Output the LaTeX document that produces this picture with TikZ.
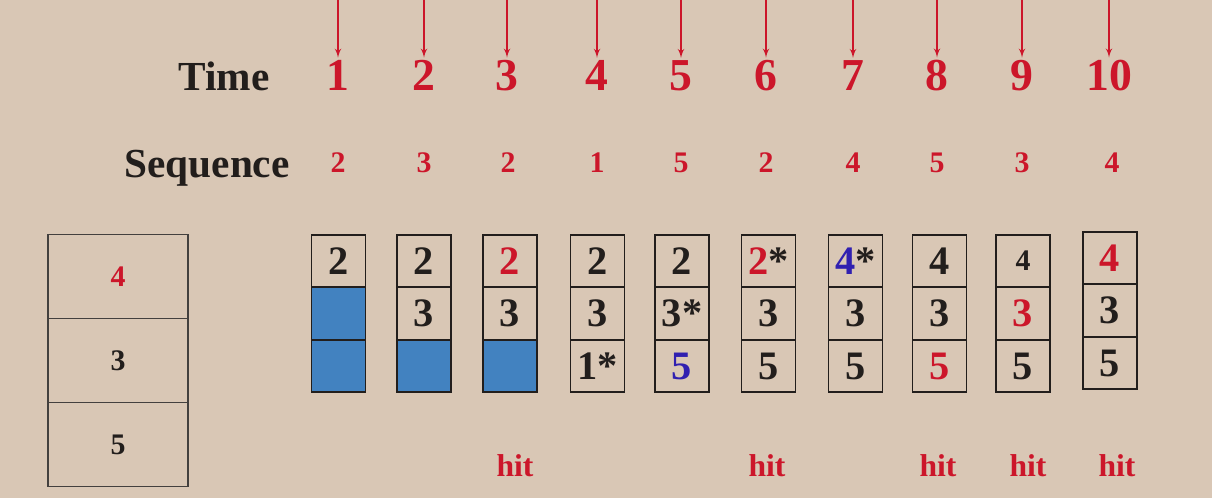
\documentclass[tikz,border=0pt]{standalone}
\usepackage{fontspec}
\setmainfont{Liberation Serif}[BoldFont={Liberation Serif Bold}]
\usetikzlibrary{shapes,arrows,positioning}
\definecolor{paper}{RGB}{217,199,181}
\definecolor{hitred}{RGB}{204,22,42}
\definecolor{newblue}{RGB}{48,32,176}
\definecolor{emptyblue}{RGB}{66,130,192}
\definecolor{ink}{RGB}{34,30,28}
\tikzstyle{rowlabel} = [anchor=base east, text=ink, inner sep=0pt,
    font=\fontsize{23.5}{24}\selectfont\bfseries]
\tikzstyle{tick} = [anchor=base, text=hitred, inner sep=1pt,
    font=\fontsize{26}{26}\selectfont\bfseries]
\tikzstyle{request} = [anchor=base, text=hitred,
    font=\fontsize{17}{17}\selectfont\bfseries]
\tikzstyle{cellbox} = [rectangle, draw=ink, line width=1.1pt, text=ink,
    minimum width=1.08cm, minimum height=1.05cm, inner sep=0pt, outer sep=0pt,
    font=\fontsize{23}{23}\selectfont\bfseries]
\tikzstyle{free} = [cellbox, fill=emptyblue]
\tikzstyle{slot} = [rectangle, draw=ink!85, line width=1pt, text=ink,
    minimum width=2.8cm, minimum height=1.68cm, inner sep=0pt, outer sep=0pt,
    font=\fontsize{17}{17}\selectfont\bfseries]
\tikzstyle{hitlabel} = [anchor=base, text=hitred,
    font=\fontsize{18}{18}\selectfont\bfseries]
\tikzstyle{line} = [draw=hitred, line width=0.8pt, -latex']

\begin{document}
\begin{tikzpicture}[x=0.02cm, y=-0.02cm]
  \fill[paper] (0,0) rectangle (1212,498);
  \useasboundingbox (0,0) rectangle (1212,498);
  % frames in memory
  \node [slot] (k1) at (118,276.5) {\color{hitred}4};
  \node [slot, below=0pt of k1] (k2) {3};
  \node [slot, below=0pt of k2] (k3) {5};
  % time row
  \node [rowlabel] (time) at (270,90) {Time};
  \node [tick] (t1) at (338,90) {1};
  \node [tick] (t2) at (424,90) {2};
  \node [tick] (t3) at (507,90) {3};
  \node [tick] (t4) at (597,90) {4};
  \node [tick] (t5) at (681,90) {5};
  \node [tick] (t6) at (766,90) {6};
  \node [tick] (t7) at (853,90) {7};
  \node [tick] (t8) at (937,90) {8};
  \node [tick] (t9) at (1022,90) {9};
  \node [tick] (t10) at (1109,90) {10};
  \foreach \i in {1,...,10} {
    \coordinate (drop\i) at (t\i.north |- 0,0);
    \path [line] (drop\i) -- (t\i);
  }
  % reference string
  \node [rowlabel] (sequence) at (290,177) {Sequence};
  \node [request] (s1) at (338,172) {2};
  \node [request] (s2) at (424,172) {3};
  \node [request] (s3) at (508,172) {2};
  \node [request] (s4) at (597,172) {1};
  \node [request] (s5) at (681,172) {5};
  \node [request] (s6) at (766,172) {2};
  \node [request] (s7) at (853,172) {4};
  \node [request] (s8) at (937,172) {5};
  \node [request] (s9) at (1022,172) {3};
  \node [request] (s10) at (1112,172) {4};
  % frame contents at each step
  \node [cellbox] (c1a) at (338.5,261) {2};
  \node [free, below=0pt of c1a] (c1b) {};
  \node [free, below=0pt of c1b] (c1c) {};
  \node [cellbox] (c2a) at (424,261) {2};
  \node [cellbox, below=0pt of c2a] (c2b) {3};
  \node [free, below=0pt of c2b] (c2c) {};
  \node [cellbox] (c3a) at (510,261) {\color{hitred}2};
  \node [cellbox, below=0pt of c3a] (c3b) {3};
  \node [free, below=0pt of c3b] (c3c) {};
  \node [cellbox] (c4a) at (597.5,261) {2};
  \node [cellbox, below=0pt of c4a] (c4b) {3};
  \node [cellbox, below=0pt of c4b] (c4c) {1*};
  \node [cellbox] (c5a) at (682,261) {2};
  \node [cellbox, below=0pt of c5a] (c5b) {3*};
  \node [cellbox, below=0pt of c5b] (c5c) {\color{newblue}5};
  \node [cellbox] (c6a) at (768.5,261) {{\color{hitred}2}*};
  \node [cellbox, below=0pt of c6a] (c6b) {3};
  \node [cellbox, below=0pt of c6b] (c6c) {5};
  \node [cellbox] (c7a) at (855.5,261) {{\color{newblue}4}*};
  \node [cellbox, below=0pt of c7a] (c7b) {3};
  \node [cellbox, below=0pt of c7b] (c7c) {5};
  \node [cellbox] (c8a) at (939.5,261) {4};
  \node [cellbox, below=0pt of c8a] (c8b) {3};
  \node [cellbox, below=0pt of c8b] (c8c) {\color{hitred}5};
  \node [cellbox, font=\fontsize{17}{17}\selectfont\bfseries] (c9a) at (1023,261) {4};
  \node [cellbox, below=0pt of c9a] (c9b) {\color{hitred}3};
  \node [cellbox, below=0pt of c9b] (c9c) {5};
  \node [cellbox] (c10a) at (1110,258) {\color{hitred}4};
  \node [cellbox, below=0pt of c10a] (c10b) {3};
  \node [cellbox, below=0pt of c10b] (c10c) {5};
  % hits
  \node [hitlabel] (h3) at (515,476) {hit};
  \node [hitlabel] (h6) at (767,476) {hit};
  \node [hitlabel] (h8) at (938,476) {hit};
  \node [hitlabel] (h9) at (1028,476) {hit};
  \node [hitlabel] (h10) at (1117,476) {hit};
\end{tikzpicture}
\end{document}
